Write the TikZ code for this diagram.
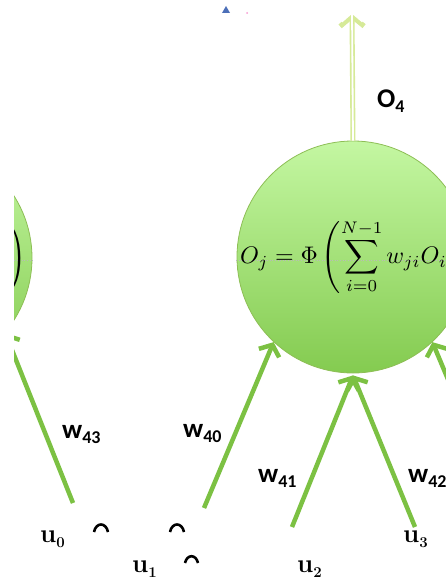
\documentclass[tikz,border=0pt]{standalone}
\usepackage{fontspec}
\newfontfamily\lab{Carlito}
\usetikzlibrary{arrows.meta}
\definecolor{arrowgreen}{HTML}{7CC143}
\definecolor{topg}{HTML}{C4F7A2}
\definecolor{botg}{HTML}{84CB50}
\definecolor{rimg}{HTML}{8DBE55}
\definecolor{outedge}{HTML}{D6EA98}
\definecolor{tri}{HTML}{4C6FB8}
\begin{document}
\begin{tikzpicture}[x=1pt,y=-1pt,
  neuron/.style={circle, minimum size=232pt, inner sep=0pt, top color=topg, bottom color=botg, draw=rimg, line width=0.8pt},
  formula/.style={scale=2.4, inner sep=0pt},
  weight/.style={draw=arrowgreen, line width=4.5pt, -{Straight Barb[length=9pt,width=22pt]}},
  wlabel/.style={font=\lab\bfseries\fontsize{27}{30}\selectfont, inner sep=0pt, anchor=base west},
  ulabel/.style={font=\fontsize{26}{30}\selectfont\bfseries, inner sep=0pt, anchor=base west},
  arcmark/.style={line width=2.6pt, black},
  guide/.style={gray!55, dotted, line width=0.6pt}
]
\useasboundingbox (0,0) rectangle (446,586);
\begin{scope}
\clip (14,0) rectangle (446,586);

% neurons
\node[neuron] (n3) at (-84,258) {};
\node[neuron] (n4) at (353,257) {};
\draw[guide] (14,260) -- (33,260);
\draw[guide] (236,260) -- (446,260);
\node[formula] (f3) at (-86,258) {$\displaystyle O_j=\Phi\left(\sum_{i=0}^{N-1} w_{ji}O_i\right)$};
\node[formula] (f4) at (353,257) {$\displaystyle O_j=\Phi\left(\sum_{i=0}^{N-1} w_{ji}O_i\right)$};

% free ends
\coordinate (s43) at (73,503);
\coordinate (s40) at (204,508);
\coordinate (s41) at (292,527);
\coordinate (s42) at (415,527);
\coordinate (s4r) at (502,508);
\coordinate (o4) at (352,13);

% weighted inputs
\draw[weight] (s43) -- (n3.-40);
\draw[weight] (s40) -- (n4.-133);
\draw[weight] (s41) -- ([yshift=-2pt]n4.south);
\draw[weight] (s42) -- ([yshift=-2pt]n4.south);
\draw[weight] (s4r) -- (n4.-47);

% output
\draw[outedge, line width=5pt, -{Straight Barb[length=10pt,width=24pt]}] (n4.north) -- (o4);
\draw[white, line width=1.8pt, -{Straight Barb[length=9pt,width=21pt]}] (n4.north) -- ([yshift=1.5pt]o4);

% labels
\node[wlabel] (lo4) at (377,107) {O\raisebox{-5pt}{\fontsize{18}{18}\selectfont 4}};
\node[wlabel] (l43) at (62,438) {w\raisebox{-5pt}{\fontsize{18}{18}\selectfont 43}};
\node[wlabel] (l40) at (183,437) {w\raisebox{-5pt}{\fontsize{18}{18}\selectfont 40}};
\node[wlabel] (l41) at (258,482) {w\raisebox{-5pt}{\fontsize{18}{18}\selectfont 41}};
\node[wlabel] (l42) at (408,482) {w\raisebox{-5pt}{\fontsize{18}{18}\selectfont 42}};

% garbled input labels
\node[ulabel] (u0) at (40,542) {u\raisebox{-5pt}{\fontsize{15}{15}\selectfont 0}};
\node[ulabel] (u1) at (132,572) {u\raisebox{-5pt}{\fontsize{15}{15}\selectfont 1}};
\node[ulabel] (u2) at (297,572) {u\raisebox{-5pt}{\fontsize{15}{15}\selectfont 2}};
\node[ulabel] (u3) at (403,542) {u\raisebox{-5pt}{\fontsize{15}{15}\selectfont 3}};
\draw[arcmark] (94,532) .. controls (96,522) and (106,522) .. (108,532);
\draw[arcmark] (170,532) .. controls (172,522) and (182,522) .. (184,532);
\draw[arcmark] (185,563) .. controls (187,554) and (196,554) .. (198,563);

% top fragments
\fill[tri] (222,13) -- (226,6) -- (230,13) -- cycle;
\fill[magenta!40] (247,13) circle (1pt);
\end{scope}
\end{tikzpicture}
\end{document}
